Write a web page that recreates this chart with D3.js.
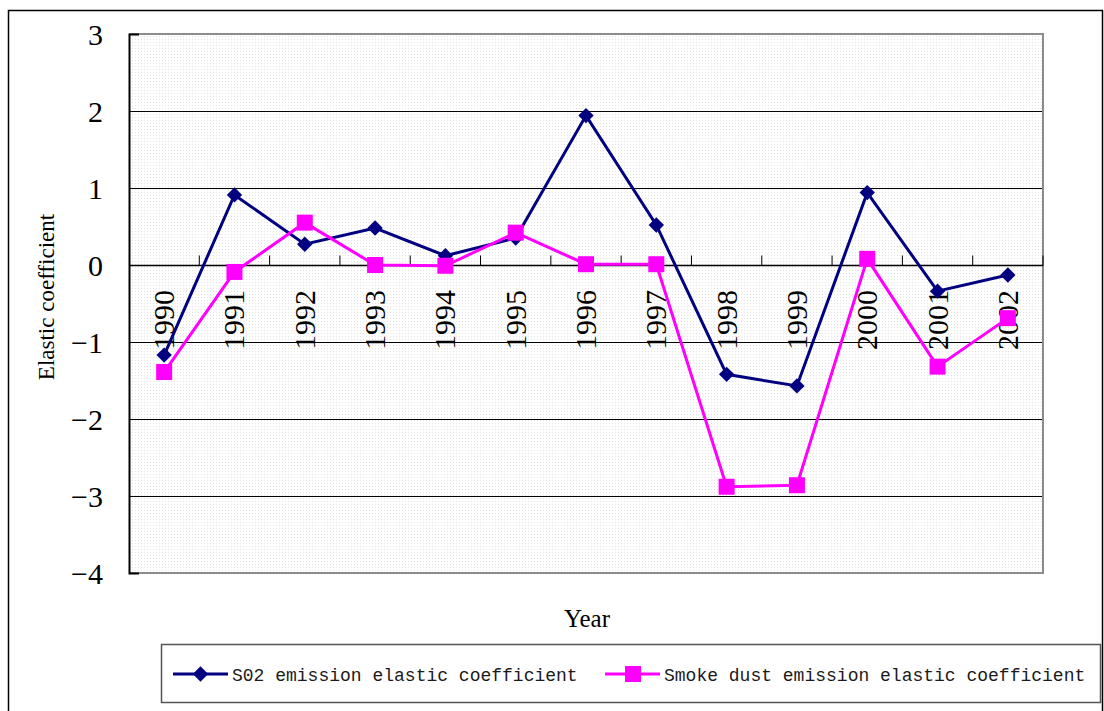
<!DOCTYPE html>
<html>
<head>
<meta charset="utf-8">
<script src="https://cdn.jsdelivr.net/npm/d3@7"></script>
<style>
  body { margin: 0; background: #fff; }
  svg { display: block; }
</style>
</head>
<body>
<svg id="chart" width="1104" height="711"></svg>
<script>
// data
const years = ["1990","1991","1992","1993","1994","1995","1996","1997","1998","1999","2000","2001","2002"]
const so2 = [-1.17, 0.91, 0.27, 0.48, 0.12, 0.35, 1.94, 0.52, -1.42, -1.57, 0.94, -0.34, -0.13]
const smoke = [-1.39, -0.09, 0.55, 0.0, -0.01, 0.42, 0.01, 0.01, -2.88, -2.86, 0.08, -1.32, -0.69]
const yTicks = [3, 2, 1, 0, -1, -2, -3, -4]
const seriesNames = ["S02 emission elastic coefficient", "Smoke dust emission elastic coefficient"]

const svg = d3.select("#chart")
const pLeft = 129, pRight = 1043, pTop = 34, pBottom = 573
const serif = "'Liberation Serif', 'Times New Roman', serif"

const x = d3.scaleBand().domain(years).range([pLeft, pRight])
const y = d3.scaleLinear().domain([-4, 3]).range([pBottom, pTop])

// outer frame
svg.append("rect")
  .attr("x", 8.5).attr("y", 10.5).attr("width", 1094).attr("height", 710)
  .attr("fill", "none").attr("stroke", "#000").attr("stroke-width", 1.5)

// dotted plot background
const defs = svg.append("defs")
const pat = defs.append("pattern").attr("id", "dots")
  .attr("width", 3).attr("height", 3).attr("patternUnits", "userSpaceOnUse")
pat.append("rect").attr("width", 3).attr("height", 3).attr("fill", "#fff")
pat.append("rect").attr("width", 1).attr("height", 1).attr("fill", "#e4e4e4")
svg.append("rect")
  .attr("x", pLeft).attr("y", pTop).attr("width", pRight - pLeft).attr("height", pBottom - pTop)
  .attr("fill", "url(#dots)")

// gridlines
svg.append("g").selectAll("line")
  .data(yTicks.filter(d => d > -4 && d < 3))
  .join("line")
  .attr("x1", pLeft).attr("x2", pRight)
  .attr("y1", d => y(d) + 0.5).attr("y2", d => y(d) + 0.5)
  .attr("stroke", "#000").attr("stroke-width", 1)

// plot frame: gray top/right/bottom
svg.append("path")
  .attr("d", `M${pLeft},${pTop}H${pRight}V${pBottom}H${pLeft}`)
  .attr("fill", "none").attr("stroke", "#8c8c8c").attr("stroke-width", 2)

// y axis
const yAxis = svg.append("g").attr("transform", `translate(${pLeft},0)`)
  .call(d3.axisRight(y).tickValues(yTicks).tickSize(10).tickFormat(""))
yAxis.select(".domain").attr("stroke", "#000").attr("stroke-width", 2)
yAxis.selectAll(".tick line").attr("stroke", "#000")
svg.append("g").selectAll("text")
  .data(yTicks)
  .join("text")
  .attr("x", 103).attr("y", d => y(d))
  .attr("dy", "0.35em")
  .attr("text-anchor", "end")
  .attr("font-family", serif)
  .attr("font-size", 30)
  .text(d => d < 0 ? "\u2212" + Math.abs(d) : d)

// x axis on zero line, ticks between categories pointing up
const xAxis = svg.append("g").attr("transform", `translate(0,${y(0) + 0.5})`)
xAxis.append("line").attr("x1", pLeft).attr("x2", pRight).attr("stroke", "#000").attr("stroke-width", 1.5)
xAxis.selectAll(".tk")
  .data(years.slice(1).concat(["end"]))
  .join("line")
  .attr("class", "tk")
  .attr("x1", (d, i) => x(years[0]) + x.step() * (i + 1))
  .attr("x2", (d, i) => x(years[0]) + x.step() * (i + 1))
  .attr("y1", 0).attr("y2", -10)
  .attr("stroke", "#000")
svg.append("g").selectAll("text")
  .data(years)
  .join("text")
  .attr("transform", d => `translate(${x(d) + x.bandwidth() / 2 + 10},${y(0) + 25}) rotate(-90)`)
  .attr("text-anchor", "end")
  .attr("font-family", serif)
  .attr("font-size", 30)
  .text(d => d)

// axis titles
svg.append("text")
  .attr("transform", `translate(54,297) rotate(-90)`)
  .attr("text-anchor", "middle")
  .attr("font-family", serif)
  .attr("font-size", 23)
  .text("Elastic coefficient")
svg.append("text")
  .attr("x", 587).attr("y", 627)
  .attr("text-anchor", "middle")
  .attr("font-family", serif)
  .attr("font-size", 25)
  .text("Year")

// series
const cx = d => x(d) + x.bandwidth() / 2
const line = d3.line().x(d => cx(d[0])).y(d => y(d[1]))
const diamond = d3.symbol().type(d3.symbolDiamond2).size(150)

const so2Data = years.map((d, i) => [d, so2[i]])
const smokeData = years.map((d, i) => [d, smoke[i]])

svg.append("path").datum(so2Data).attr("d", line)
  .attr("fill", "none").attr("stroke", "#000080").attr("stroke-width", 3)
svg.append("path").datum(smokeData).attr("d", line)
  .attr("fill", "none").attr("stroke", "#ff00ff").attr("stroke-width", 3)

svg.append("g").selectAll("path")
  .data(so2Data)
  .join("path")
  .attr("transform", d => `translate(${cx(d[0])},${y(d[1])})`)
  .attr("d", diamond)
  .attr("fill", "#000080")
svg.append("g").selectAll("rect")
  .data(smokeData)
  .join("rect")
  .attr("x", d => cx(d[0]) - 8).attr("y", d => y(d[1]) - 8)
  .attr("width", 16).attr("height", 16)
  .attr("fill", "#ff00ff")

// legend
const lg = svg.append("g")
lg.append("rect")
  .attr("x", 161.5).attr("y", 644.5).attr("width", 939).attr("height", 58)
  .attr("fill", "#fff").attr("stroke", "#555").attr("stroke-width", 1.5)
const legendItems = [
  { name: seriesNames[0], color: "#000080", x0: 173, shape: "diamond" },
  { name: seriesNames[1], color: "#ff00ff", x0: 605, shape: "square" }
]
legendItems.forEach(it => {
  lg.append("line").attr("x1", it.x0).attr("x2", it.x0 + 55)
    .attr("y1", 674).attr("y2", 674)
    .attr("stroke", it.color).attr("stroke-width", 3)
  if (it.shape === "diamond") {
    lg.append("path").attr("transform", `translate(${it.x0 + 27.5},674)`)
      .attr("d", diamond).attr("fill", it.color)
  } else {
    lg.append("rect").attr("x", it.x0 + 20).attr("y", 666)
      .attr("width", 16).attr("height", 16).attr("fill", it.color)
  }
  lg.append("text")
    .attr("x", it.x0 + 59).attr("y", 675).attr("dy", "0.35em")
    .attr("font-family", "'Liberation Mono', monospace")
    .attr("font-size", 18)
    .attr("fill", "#1a1a1a")
    .text(it.name)
})
</script>
</body>
</html>
